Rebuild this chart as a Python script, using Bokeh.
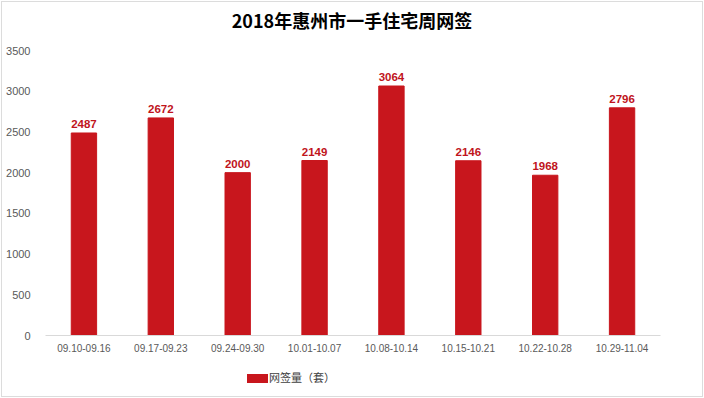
from bokeh.plotting import figure
from bokeh.models import ColumnDataSource, FactorRange, FixedTicker, Div, InlineStyleSheet
from bokeh.layouts import column
from bokeh.embed import file_html
from bokeh.resources import INLINE
from bokeh.core.properties import value

weeks = ["09.10-09.16", "09.17-09.23", "09.24-09.30", "10.01-10.07",
         "10.08-10.14", "10.15-10.21", "10.22-10.28", "10.29-11.04"]
sales = [2487, 2672, 2000, 2149, 3064, 2146, 1968, 2796]
y_ticks = [0, 500, 1000, 1500, 2000, 2500, 3000, 3500]
title_text = "2018年惠州市一手住宅周网签"
series_name = "网签量（套）"
bar_color = "#c8161d"

src = ColumnDataSource(dict(week=weeks, sales=sales, label=[str(v) for v in sales]))

title_div = Div(
    text=('<div style="display:flex;align-items:center;justify-content:center;'
          'height:40px;padding-top:2px;box-sizing:border-box;width:704px;'
          'font-family:\'Noto Sans CJK SC\';font-size:18px;font-weight:bold;color:#000;">'
          f'{title_text}</div>'),
    width=704, height=40, margin=(0, 0, 0, 0))

p = figure(width=704, height=326, x_range=FactorRange(*weeks, range_padding=0.0),
           y_range=(0, 3500), output_backend="svg", toolbar_location=None,
           min_border_left=45, min_border_right=44, min_border_top=10, min_border_bottom=31,
           border_fill_color=None)

r = p.vbar(x="week", top="sales", width=0.33, source=src, color=bar_color)
p.text(x="week", y="sales", text="label", source=src, text_align="center",
       text_baseline="bottom", y_offset=-5, text_font_size="11.5px",
       text_font_style="bold", text_color="#c0141c", text_font=value("Liberation Sans"))

p.xgrid.visible = False
p.ygrid.visible = False
p.outline_line_color = None

p.yaxis.ticker = FixedTicker(ticks=y_ticks)
p.yaxis.axis_line_color = None
p.yaxis.major_tick_line_color = None
p.yaxis.minor_tick_line_color = None
p.yaxis.major_label_text_font_size = "11px"
p.yaxis.major_label_text_color = "#595959"
p.yaxis.major_label_text_font = "Liberation Sans"
p.yaxis.major_label_standoff = 9

p.xaxis.axis_line_color = "#d9d9d9"
p.xaxis.major_tick_line_color = None
p.xaxis.minor_tick_line_color = None
p.xaxis.major_label_text_font_size = "10px"
p.xaxis.major_label_text_color = "#595959"
p.xaxis.major_label_text_font = "Liberation Sans"
p.xaxis.major_label_standoff = 2

legend_div = Div(
    text=('<div style="display:flex;align-items:center;height:24px;padding-left:247px;">'
          f'<span style="display:inline-block;width:21px;height:9px;background:{bar_color};margin-right:1px;"></span>'
          f'<span style="font-family:\'Noto Sans CJK SC\';font-size:11px;color:#404040;">{series_name}</span>'
          '</div>'),
    width=704, height=32, margin=(0, 0, 0, 0))

frame_css = InlineStyleSheet(css=":host { outline: 1px solid #dcdcdc; outline-offset: -2px; }")
layout = column(title_div, p, legend_div, spacing=0, stylesheets=[frame_css])
open("out.html", "w").write(file_html(layout, INLINE))
